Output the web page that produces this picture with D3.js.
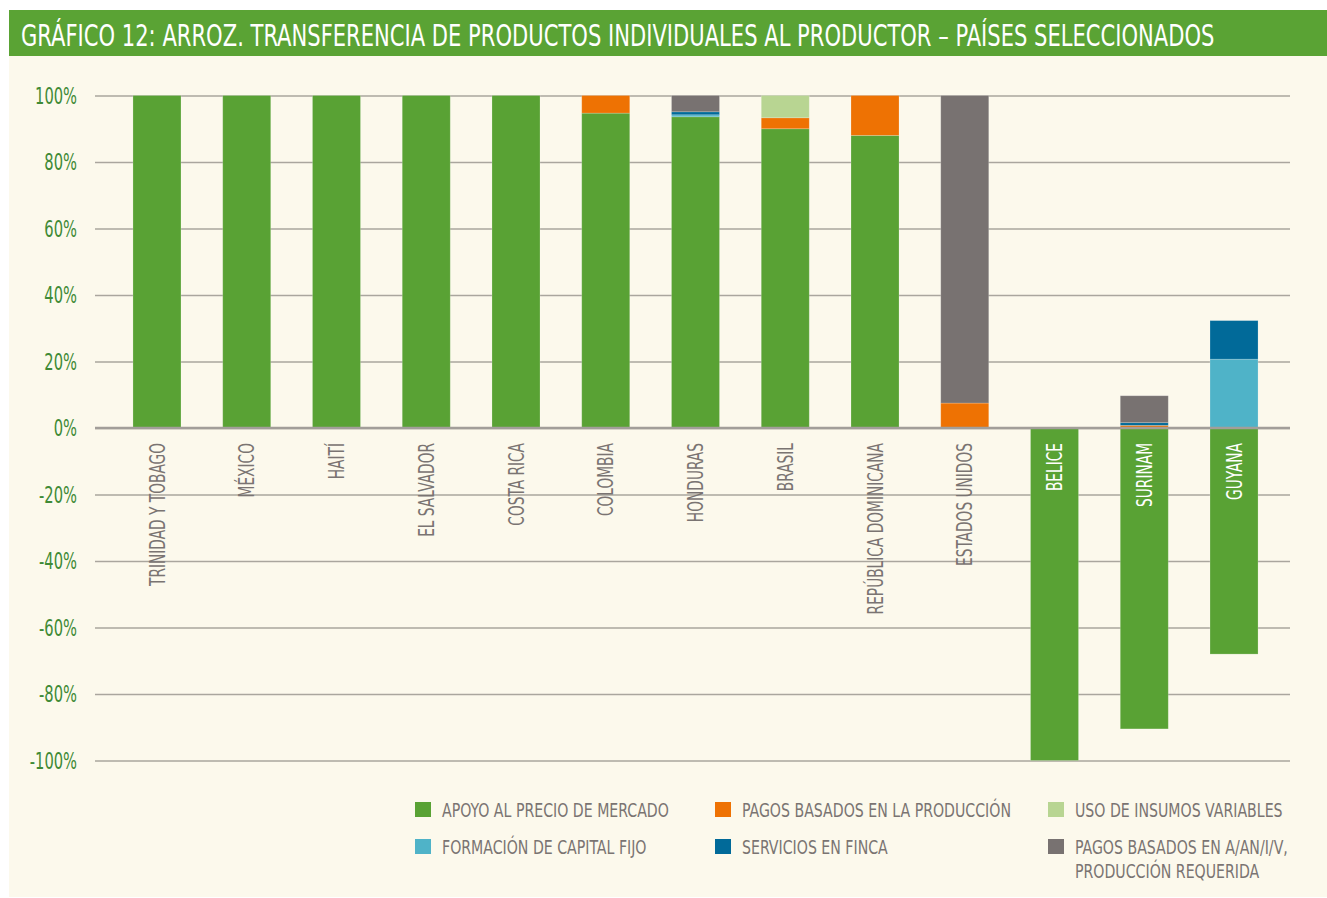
<!DOCTYPE html>
<html>
<head>
<meta charset="utf-8">
<script src="https://cdn.jsdelivr.net/npm/d3@7"></script>
<style>
  body { margin: 0; background: #fff; }
  svg { display: block; }
  text { font-family: "Liberation Sans Narrow", "DejaVu Sans Condensed", "Roboto Condensed", sans-serif; }
</style>
</head>
<body>
<div id="chart"></div>
<script>
// Chart values (percent of producer single commodity transfers)
const countries = ["TRINIDAD Y TOBAGO", "MÉXICO", "HAITÍ", "EL SALVADOR", "COSTA RICA", "COLOMBIA",
  "HONDURAS", "BRASIL", "REPÚBLICA DOMINICANA", "ESTADOS UNIDOS", "BELICE", "SURINAM", "GUYANA"];

const apoyoPrecio   = [100, 100, 100, 100, 100, 94.7, 93.6, 90.0, 88.0, 0, -100, -90.5, -68.0];
const pagosProd     = [0, 0, 0, 0, 0, 5.3, 0, 3.3, 12.0, 7.5, 0, 0.8, 0];
const insumos       = [0, 0, 0, 0, 0, 0, 0, 6.7, 0, 0, 0, 0, 0];
const capitalFijo   = [0, 0, 0, 0, 0, 0, 0.6, 0, 0, 0, 0, 0, 20.7];
const servicios     = [0, 0, 0, 0, 0, 0, 0.9, 0, 0, 0, 0, 0.8, 11.6];
const pagosAAN      = [0, 0, 0, 0, 0, 0, 4.9, 0, 0, 92.5, 0, 8.1, 0];

const seriesKeys = ["apoyo", "prod", "insumos", "capital", "servicios", "aan"];
const seriesLabels = [
  ["APOYO AL PRECIO DE MERCADO"],
  ["PAGOS BASADOS EN LA PRODUCCIÓN"],
  ["USO DE INSUMOS VARIABLES"],
  ["FORMACIÓN DE CAPITAL FIJO"],
  ["SERVICIOS EN FINCA"],
  ["PAGOS BASADOS EN A/AN/I/V,", "PRODUCCIÓN REQUERIDA"]
];
const seriesColors = ["#59a234", "#ee7203", "#b8d592", "#4fb3c8", "#016a99", "#787271"];
const yTicks = [100, 80, 60, 40, 20, 0, -20, -40, -60, -80, -100];

const title = "GRÁFICO 12: ARROZ. TRANSFERENCIA DE PRODUCTOS INDIVIDUALES AL PRODUCTOR – PAÍSES SELECCIONADOS";

// build table for d3.stack
const table = countries.map((c, i) => ({
  country: c,
  apoyo: apoyoPrecio[i], prod: pagosProd[i], insumos: insumos[i],
  capital: capitalFijo[i], servicios: servicios[i], aan: pagosAAN[i]
}));

const W = 1327, H = 898;
const svg = d3.select('#chart').append('svg').attr('width', W).attr('height', H);

// panels
svg.append('rect').attr('x', 9).attr('y', 56).attr('width', W - 9).attr('height', 897 - 56).attr('fill', '#fcf9ec');
svg.append('rect').attr('x', 9).attr('y', 10).attr('width', W - 9).attr('height', 46).attr('fill', '#5aa334');

// condense text: shrink font so the width matches, then stretch it back vertically
// (texts must be placed with transform, x/y left at 0)
function condense(sel, refNode, target) {
  const k = target / refNode.getComputedTextLength();
  sel.each(function() {
    const t = d3.select(this);
    const f = parseFloat(t.style('font-size'));
    t.style('font-size', (f * k) + 'px')
      .attr('transform', (t.attr('transform') || '') + ` scale(1,${1 / k})`);
  });
}

const titleText = svg.append('text')
  .attr('transform', 'translate(21,45.5)')
  .attr('fill', '#fff')
  .style('font-size', '31px')
  .text(title);
condense(titleText, titleText.node(), 1194);

// scales
const x = d3.scaleBand().domain(countries).range([112.1, 1278.9]).paddingInner(0.465).paddingOuter(0.2325);
const y = d3.scaleLinear().domain([-100, 100]).range([760.5, 95.5]);
const color = d3.scaleOrdinal().domain(seriesKeys).range(seriesColors);

// grid + tick labels
const left = 95, right = 1290;
const yAxis = svg.append('g')
  .attr('transform', `translate(${left},0)`)
  .call(d3.axisLeft(y).tickValues(yTicks).tickSize(-(right - left)).tickPadding(18).tickFormat(d => d + '%'));
yAxis.select('.domain').remove();
yAxis.selectAll('.tick line').attr('stroke', '#aaa69e').attr('stroke-width', 1.3);
const tickLabels = yAxis.selectAll('.tick text')
  .attr('transform', `translate(${-18},0)`)
  .attr('x', null)
  .attr('fill', '#3f8a36')
  .style('font-size', '22.5px')
  .attr('dy', '0.34em');
condense(tickLabels, tickLabels.filter(d => d === 100).node(), 42);

// stacked bars
const stacked = d3.stack().keys(seriesKeys).offset(d3.stackOffsetDiverging)(table);

svg.append('g').selectAll('g')
  .data(stacked)
  .join('g')
  .attr('fill', d => color(d.key))
  .selectAll('rect')
  .data(d => d.filter(s => s[1] !== s[0]))
  .join('rect')
  .attr('x', d => x(d.data.country))
  .attr('width', x.bandwidth())
  .attr('y', d => y(Math.max(d[0], d[1])))
  .attr('height', d => Math.abs(y(d[0]) - y(d[1])))
  .attr('stroke', '#ffffff')
  .attr('stroke-opacity', 0.25)
  .attr('stroke-width', 0.8);

// zero line on top
svg.append('line')
  .attr('x1', left).attr('x2', right)
  .attr('y1', y(0)).attr('y2', y(0))
  .attr('stroke', '#a29e99').attr('stroke-width', 2.6);

// country labels
const labels = svg.append('g').selectAll('text')
  .data(table)
  .join('text')
  .attr('transform', d => `translate(${x(d.country) + x.bandwidth() / 2},443) rotate(-90)`)
  .attr('text-anchor', 'end')
  .attr('dy', '0.36em')
  .attr('fill', d => d.apoyo < 0 ? '#ffffff' : '#7a7472')
  .style('font-size', '21px')
  .text(d => d.country);
condense(labels, labels.filter(d => d.country === 'TRINIDAD Y TOBAGO').node(), 143);

// legend
const legendCols = [415, 715, 1048];
const legendRows = [802, 839];
const legend = svg.append('g').selectAll('g')
  .data(seriesKeys)
  .join('g')
  .attr('transform', (d, i) => `translate(${legendCols[i % 3]},${legendRows[Math.floor(i / 3)]})`);
legend.append('rect').attr('width', 16).attr('height', 15).attr('fill', d => color(d));
const legendText = legend.selectAll('text')
  .data((d, i) => seriesLabels[i])
  .join('text')
  .attr('transform', (d, j) => `translate(27,${14.5 + j * 24})`)
  .attr('fill', '#7a7472')
  .style('font-size', '19.5px')
  .text(d => d);
condense(legendText, legendText.filter(d => d === 'APOYO AL PRECIO DE MERCADO').node(), 227);
</script>
</body>
</html>
